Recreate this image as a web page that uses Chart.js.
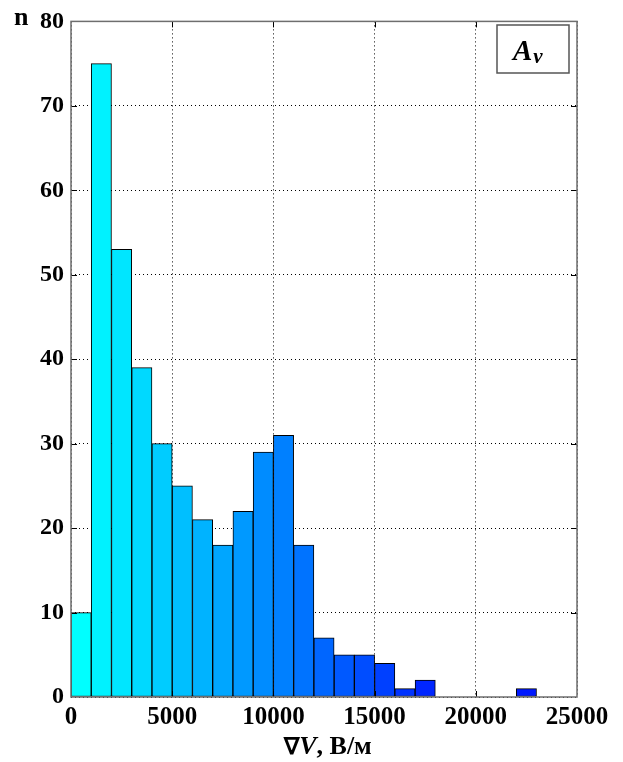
<!DOCTYPE html>
<html>
<head>
<meta charset="utf-8">
<script src="https://cdn.jsdelivr.net/npm/chart.js@4"></script>
<style>
  html, body { margin: 0; padding: 0; background: #fff; }
  #wrap { width: 623px; height: 762px; position: relative; }
</style>
</head>
<body>
<div id="wrap"><canvas id="c" width="623" height="762"></canvas></div>
<script>
// Histogram of the field gradient: bin edges (В/м) and counts per 1000 В/м bin
const binStarts = [0, 1000, 2000, 3000, 4000, 5000, 6000, 7000, 8000, 9000,
                   10000, 11000, 12000, 13000, 14000, 15000, 16000, 17000, 18000, 19000,
                   20000, 21000, 22000, 23000, 24000];
const binWidth = 1000;
const counts = [10, 75, 53, 39, 30, 25, 21, 18, 22, 29,
                31, 18, 7, 5, 5, 4, 1, 2, 0, 0,
                0, 0, 1, 0, 0];
const xTicks = [0, 5000, 10000, 15000, 20000, 25000];
const yTicks = [0, 10, 20, 30, 40, 50, 60, 70, 80];
const xTitle = ['∇', 'V', ', В/м'];
const yTitle = 'n';
const panelLabel = ['A', 'v'];

// only occupied bins become bars
const bars = [];
binStarts.forEach((s, i) => {
  if (counts[i] > 0) bars.push({ x: s + binWidth / 2, y: counts[i] });
});

const SERIF = '"Liberation Serif", "Times New Roman", serif';

// cyan → blue shading along the occupied bars
function barColor(ctx) {
  const k = ctx.dataIndex;
  const g = Math.round(255 * (1 - k / 20));
  return `rgb(0,${Math.max(0, g)},255)`;
}

const framePlugin = {
  id: 'frame',
  afterDatasetsDraw(chart) {
    const { ctx, chartArea: a, scales } = chart;
    ctx.save();
    // inward tick marks on all four sides
    ctx.strokeStyle = '#000';
    ctx.lineWidth = 1;
    const tl = 6;
    yTicks.forEach(v => {
      if (v === yTicks[0] || v === yTicks[yTicks.length - 1]) return;
      const y = Math.round(scales.y.getPixelForValue(v)) + 0.5;
      ctx.beginPath();
      ctx.moveTo(a.left, y); ctx.lineTo(a.left + tl, y);
      ctx.moveTo(a.right, y); ctx.lineTo(a.right - tl, y);
      ctx.stroke();
    });
    xTicks.forEach(v => {
      if (v === xTicks[0] || v === xTicks[xTicks.length - 1]) return;
      const x = Math.round(scales.x.getPixelForValue(v)) + 0.5;
      ctx.beginPath();
      ctx.moveTo(x, a.top); ctx.lineTo(x, a.top + tl);
      ctx.moveTo(x, a.bottom); ctx.lineTo(x, a.bottom - tl);
      ctx.stroke();
    });
    // axes box
    ctx.strokeStyle = '#6e6e6e';
    ctx.lineWidth = 1.5;
    ctx.strokeRect(a.left, a.top, a.right - a.left, a.bottom - a.top);
    ctx.restore();
  },
  afterDraw(chart) {
    const { ctx } = chart;
    ctx.save();
    ctx.fillStyle = '#000';
    ctx.textBaseline = 'alphabetic';

    // y-axis label
    ctx.font = `bold 26px ${SERIF}`;
    ctx.textAlign = 'left';
    ctx.fillText(yTitle, 14, 25);

    // x-axis label: ∇V, В/м
    const parts = [
      { t: xTitle[0], f: `bold 23px ${SERIF}` },
      { t: xTitle[1], f: `italic bold 26px ${SERIF}` },
      { t: xTitle[2], f: `bold 26px ${SERIF}` }
    ];
    let total = 0;
    parts.forEach(p => { ctx.font = p.f; p.w = ctx.measureText(p.t).width; total += p.w; });
    let x = 328 - total / 2;
    parts.forEach(p => { ctx.font = p.f; ctx.fillText(p.t, x, 754); x += p.w; });

    // panel tag
    ctx.fillStyle = '#fff';
    ctx.fillRect(497, 25, 72, 48);
    ctx.strokeStyle = '#555';
    ctx.lineWidth = 1.5;
    ctx.strokeRect(497, 25, 72, 48);
    ctx.fillStyle = '#000';
    ctx.font = `italic bold 29px ${SERIF}`;
    ctx.fillText(panelLabel[0], 513, 60);
    const aw = ctx.measureText(panelLabel[0]).width;
    ctx.font = `italic bold 21px ${SERIF}`;
    ctx.fillText(panelLabel[1], 513 + aw + 1, 63);
    ctx.restore();
  }
};

new Chart(document.getElementById('c'), {
  type: 'bar',
  data: {
    datasets: [{
      data: bars,
      backgroundColor: barColor,
      borderColor: '#000',
      borderWidth: 1,
      borderSkipped: false,
      barPercentage: 1,
      categoryPercentage: 1
    }]
  },
  options: {
    responsive: false,
    animation: false,
    layout: { padding: { left: 0, right: 46, top: 17, bottom: 0 } },
    plugins: { legend: { display: false }, tooltip: { enabled: false } },
    scales: {
      x: {
        type: 'linear',
        offset: false,
        min: xTicks[0],
        max: xTicks[xTicks.length - 1],
        afterBuildTicks: s => { s.ticks = xTicks.map(v => ({ value: v })); },
        afterFit: s => { s.height = 65; },
        ticks: {
          color: '#000',
          padding: 6,
          maxRotation: 0,
          font: { family: SERIF, size: 25, weight: 'bold' },
          callback: v => String(v)
        },
        grid: { color: '#000', lineWidth: 1, drawTicks: false, offset: false },
        border: { display: false, dash: [1, 3] }
      },
      y: {
        min: yTicks[0],
        max: yTicks[yTicks.length - 1],
        afterBuildTicks: s => { s.ticks = yTicks.map(v => ({ value: v })); },
        afterFit: s => { s.width = 71; },
        ticks: {
          color: '#000',
          padding: 7,
          font: { family: SERIF, size: 24, weight: 'bold' },
          callback: v => String(v)
        },
        grid: { color: '#000', lineWidth: 1, drawTicks: false },
        border: { display: false, dash: [1, 3] }
      }
    }
  },
  plugins: [framePlugin]
});
</script>
</body>
</html>
